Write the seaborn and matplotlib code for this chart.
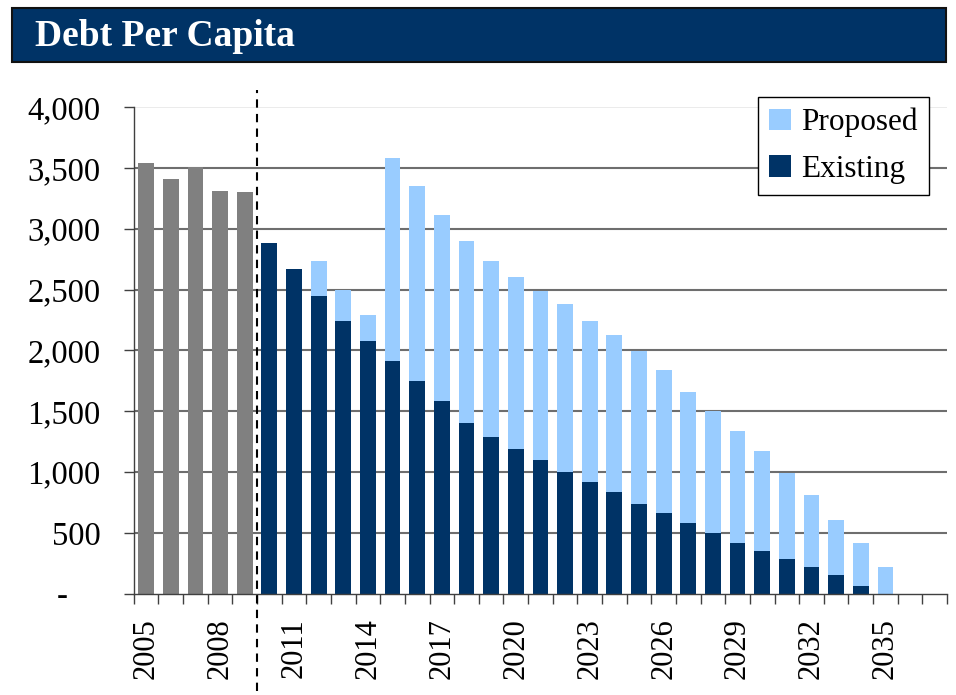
import numpy as np
import pandas as pd
import matplotlib
matplotlib.use("Agg")
import matplotlib.pyplot as plt
import seaborn as sns
from matplotlib.patches import Patch, Rectangle
from matplotlib.ticker import FuncFormatter, FixedLocator

# Data
hist_years = [2005, 2006, 2007, 2008, 2009]
hist_debt = [3545, 3410, 3510, 3315, 3300]

fcst_years = list(range(2010, 2036))
existing = [2880, 2670, 2445, 2245, 2075, 1915, 1745, 1580, 1400, 1285,
            1185, 1100, 1000, 918, 835, 740, 660, 577, 495, 413,
            347, 281, 215, 149, 66, 0]
proposed = [0, 0, 290, 250, 215, 1665, 1605, 1533, 1500, 1450,
            1418, 1388, 1381, 1326, 1294, 1255, 1175, 1085, 1003, 922,
            823, 708, 592, 460, 348, 217]

all_years = [str(y) for y in range(2005, 2038)]
label_years = [str(y) for y in range(2005, 2036, 3)]

# Colours
navy = '#003366'
light_blue = '#99ccff'
grey = '#808080'

hist_df = pd.DataFrame({'year': [str(y) for y in hist_years], 'debt': hist_debt})
fcst_df = pd.DataFrame({'year': [str(y) for y in fcst_years],
                        'existing': existing, 'proposed': proposed})
fcst_df['total'] = fcst_df['existing'] + fcst_df['proposed']

plt.rcParams['font.family'] = ['Liberation Serif', 'DejaVu Serif']

fig = plt.figure(figsize=(9.56, 6.95), dpi=100, facecolor='white')
ax = fig.add_axes([0.140, 0.146, 0.8506, 0.6996])

bar_kw = dict(order=all_years, width=0.64, saturation=1, errorbar=None, ax=ax)
sns.barplot(data=fcst_df, x='year', y='total', color=light_blue, **bar_kw)
sns.barplot(data=fcst_df, x='year', y='existing', color=navy, **bar_kw)
sns.barplot(data=hist_df, x='year', y='debt', color=grey, **bar_kw)

ax.set_xlim(-0.5, len(all_years) - 0.5)
ax.set_ylim(0, 4000)
ax.set_xlabel('')
ax.set_ylabel('')

# Gridlines
for v in range(500, 4000, 500):
    ax.axhline(v, color='#6e6e6e', lw=1.5, zorder=0)
ax.axhline(4000, color='#e8e8e8', lw=1.2, zorder=0)

# Y axis
ax.set_yticks(range(0, 4001, 500))
ax.yaxis.set_major_formatter(FuncFormatter(
    lambda v, p: '-    ' if v == 0 else f'{int(v):,}'))
ax.tick_params(axis='y', direction='out', length=7, width=1, color='#404040',
               labelsize=23.5, pad=17)

# X axis: labels every 3 years, ticks between every category
ax.xaxis.set_major_locator(FixedLocator([all_years.index(y) for y in label_years]))
ax.set_xticklabels(label_years, rotation=90)
ax.xaxis.set_minor_locator(FixedLocator(np.arange(-0.5, len(all_years), 1.0)))
ax.tick_params(axis='x', which='major', length=0, labelsize=22, pad=18)
ax.tick_params(axis='x', which='minor', direction='out', length=7, width=1,
               color='#404040')

for s in ['top', 'right']:
    ax.spines[s].set_visible(False)
for s in ['left', 'bottom']:
    ax.spines[s].set_color('#404040')
    ax.spines[s].set_linewidth(1)

# Dashed divider between actual and projected
ax.axvline(4.5, ymin=-0.2, ymax=1.036, color='black', lw=1.5,
           ls=(0, (4, 3)), clip_on=False, zorder=5)

# Legend
handles = [Patch(facecolor=light_blue, label='Proposed'),
           Patch(facecolor=navy, label='Existing')]
leg = ax.legend(handles=handles, loc='upper right',
                bbox_to_anchor=(929 / 956, 1 - 97 / 695),
                bbox_transform=fig.transFigure, fontsize=22.5, frameon=True,
                fancybox=False, framealpha=1, edgecolor='black',
                handlelength=0.7, handleheight=0.7, handletextpad=0.35,
                borderpad=0.35, labelspacing=0.55, borderaxespad=0)
leg.get_frame().set_linewidth(1)

# Title banner
fig.patches.append(Rectangle((12 / 956, 1 - 62 / 695), 934 / 956, 54 / 695,
                             transform=fig.transFigure, facecolor=navy,
                             edgecolor='#111111', lw=1.5, zorder=0))
fig.text(35 / 956, 1 - 37 / 695, 'Debt Per Capita', color='white',
         fontsize=27, fontweight='bold', va='center', ha='left')

fig.savefig('out.png', dpi=100, facecolor='white')
